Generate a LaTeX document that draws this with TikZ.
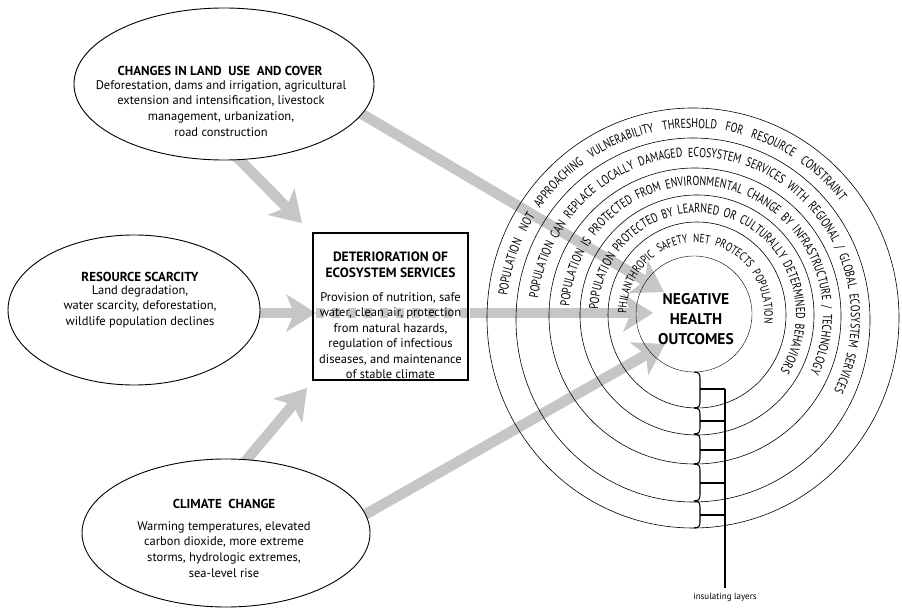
\documentclass[tikz,border=0pt]{standalone}
\usepackage{fontspec}
\setmainfont{PT Sans}
\newfontfamily\ringfont[FakeStretch=0.765]{PT Sans}
\usetikzlibrary{shapes.geometric,arrows.meta,decorations.text}
\definecolor{arrowgray}{RGB}{198,198,198}
\newcommand\ringtxt{\ringfont\fontsize{13pt}{14pt}\selectfont}
\newcommand\ringtxtsmall{\ringfont\fontsize{12pt}{14pt}\selectfont}
\tikzset{
  garrow/.style={draw=arrowgray, line width=10.5pt,
    -{Stealth[length=30pt,width=38pt,inset=8pt,line width=0pt,fill=arrowgray]}},
  gdash/.style={draw=arrowgray, line width=10.5pt, dash pattern=on 8pt off 8pt},
  cause/.style={ellipse, draw, fill=white, line width=0.9pt, inner sep=0pt},
  ringline/.style={draw, line width=0.6pt},
  hdr/.style={font=\bfseries\fontsize{13pt}{15.7pt}\selectfont, align=center, inner sep=0pt, anchor=north},
  body/.style={font=\fontsize{12.5pt}{15.7pt}\selectfont, align=center, inner sep=0pt, anchor=north},
  bracketline/.style={draw, line width=1.1pt},
}
\begin{document}
\begin{tikzpicture}[x=1pt,y=1pt]
\fill[white] (0,0) rectangle (902,608);
\path[use as bounding box] (0,0) rectangle (902,608);

% arrow end points
\coordinate (a1s) at (226,462);
\coordinate (a1e) at (302,385);
\coordinate (a2s) at (350,501);
\coordinate (a2e) at (664,316);
\coordinate (a3s) at (240,295);
\coordinate (a3e) at (316,295);
\coordinate (d3e) at (478,295);
\coordinate (b3s) at (470,295);
\coordinate (b3e) at (653,295);
\coordinate (a4s) at (238,138);
\coordinate (a4e) at (307,220);
\coordinate (a5s) at (345,82);
\coordinate (a5e) at (665,264);

% gray arrows (behind everything)
\draw[garrow] (a1s) -- (a1e);
\draw[garrow] (a2s) -- (a2e);
\draw[garrow] (a3s) -- (a3e);
\draw[gdash] (a3e) -- (d3e);
\draw[garrow] (b3s) -- (b3e);
\draw[garrow] (a4s) -- (a4e);
\draw[garrow] (a5s) -- (a5e);

% cause ellipses
\node[cause, minimum width=300pt, minimum height=152pt] (land) at (224,524) {};
\node[cause, minimum width=252pt, minimum height=150pt] (scarcity) at (134,298) {};
\node[cause, minimum width=288pt, minimum height=148pt] (climate) at (226,75) {};

\node[hdr] (landh) at (220,542) {CHANGES IN LAND\ \ USE\ \ AND COVER};
\node[body] (landb) at (221,528) {Deforestation, dams and irrigation, agricultural\\extension and intensification, livestock\\management, urbanization,\\road construction};

\node[hdr] (scarh) at (140,336) {RESOURCE SCARCITY};
\node[body] (scarb) at (140,323) {Land degradation,\\water scarcity, deforestation,\\wildlife population declines};

\node[hdr] (climh) at (224,109) {CLIMATE\ \ CHANGE};
\node[body] (climb) at (224,87) {Warming temperatures, elevated\\carbon dioxide, more extreme\\storms, hydrologic extremes,\\sea-level rise};

% central box
\node[draw, line width=1.1pt, minimum width=155pt, minimum height=147pt, inner sep=0pt] (box) at (390.5,301.5) {};
\node[hdr, font=\bfseries\fontsize{13.5pt}{15.7pt}\selectfont] (boxh) at (390.5,356) {DETERIORATION OF\\ECOSYSTEM SERVICES};
\node[body, font=\fontsize{12.5pt}{15.5pt}\selectfont] (boxb) at (390.5,316) {Provision of nutrition, safe\\water, clean air, protection\\from natural hazards,\\regulation of infectious\\diseases, and maintenance\\of stable climate};

% concentric rings
\draw[ringline] (693,290) ellipse [x radius=206, y radius=210];
\draw[ringline] (693,288) ellipse [x radius=177, y radius=182];
\draw[ringline] (695,292) ellipse [x radius=146, y radius=148];
\draw[ringline] (697,293) ellipse [x radius=117, y radius=120];
\draw[ringline] (697,293) ellipse [x radius=89, y radius=93];
\draw[line width=0.4pt] (694,294) circle [radius=58];

% ring texts
\path[decorate, decoration={text along path, text align={fit to path stretching spaces},
  text={|\ringtxt|POPULATION NOT APPROACHING VULNERABILITY THRESHOLD FOR RESOURCE CONSTRAINT}}]
  (693,289) ++(173:187 and 191) arc[start angle=173, end angle=38, x radius=187, y radius=191];
\path[decorate, decoration={text along path, text align={fit to path stretching spaces},
  text={|\ringtxt|POPULATION CAN REPLACE LOCALLY DAMAGED ECOSYSTEM SERVICES WITH REGIONAL / GLOBAL ECOSYSTEM SERVICES}}]
  (694,290) ++(173:157 and 161) arc[start angle=173, end angle=-27, x radius=157, y radius=161];
\path[decorate, decoration={text along path, text align={fit to path stretching spaces},
  text={|\ringtxt|POPULATION IS PROTECTED FROM ENVIRONMENTAL CHANGE BY INFRASTRUCTURE / TECHNOLOGY}}]
  (696,292.5) ++(176:127 and 130) arc[start angle=176, end angle=-26, x radius=127, y radius=130];
\path[decorate, decoration={text along path, text align={fit to path stretching spaces},
  text={|\ringtxt|POPULATION PROTECTED BY LEARNED OR CULTURALLY DETERMINED BEHAVIORS}}]
  (697,293) ++(177:99 and 102) arc[start angle=177, end angle=-33, x radius=99, y radius=102];
\path[decorate, decoration={text along path, text align={fit to path stretching spaces},
  text={|\ringtxtsmall|PHILANTHROPIC SAFETY NET PROTECTS POPULATION}}]
  (695.5,293.5) ++(179:69 and 72) arc[start angle=179, end angle=-7, x radius=69, y radius=72];

\node[font=\bfseries\fontsize{15.5pt}{20pt}\selectfont, align=center, inner sep=0pt, anchor=north] (neg) at (696,315) {NEGATIVE\\HEALTH\\OUTCOMES};

% insulating layers bracket
\foreach \ya/\yb in {236/200, 200/174, 174/144, 144/107, 107/80}{
  \draw[bracketline] (694,\ya) .. controls (700,\ya) and (700,\ya-3) .. (700,\ya-8)
     -- (700,\yb+8) .. controls (700,\yb+3) and (700,\yb) .. (694,\yb);
}
\coordinate (vtop) at (725,219);
\coordinate (vbot) at (725,20);
\draw[bracketline] (vtop) -- (vbot);
\foreach \yt in {219,187,158,125,93}{
  \draw[bracketline] (700,\yt) -- (725,\yt);
}
\node[font=\fontsize{9pt}{10pt}\selectfont, inner sep=0pt, anchor=north] (ins) at (725,15) {insulating layers};
\end{tikzpicture}
\end{document}
